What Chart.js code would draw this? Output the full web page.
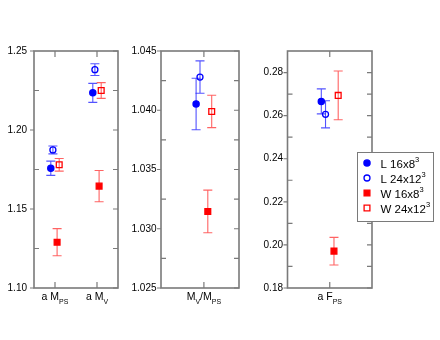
<!DOCTYPE html>
<html>
<head>
<meta charset="utf-8">
<script src="https://cdn.jsdelivr.net/npm/chart.js@4.4.0/dist/chart.umd.min.js"></script>
<style>
  body { margin: 0; background: #fff; }
  #wrap { position: relative; width: 440px; height: 340px; }
  canvas { position: absolute; top: 0; }
</style>
</head>
<body>
<div id="wrap">
  <canvas id="p1" width="125" height="340" style="left:0"></canvas>
  <canvas id="p2" width="125" height="340" style="left:120px"></canvas>
  <canvas id="p3" width="200" height="340" style="left:240px"></canvas>
</div>
<script>
// series (legend order)
const seriesNames = ["L 16x8^{3}", "L 24x12^{3}", "W 16x8^{3}", "W 24x12^{3}"]
const seriesShift = [-0.1, -0.05, 0.05, 0.1]

// panel 1: a M_PS, a M_V
const massLabels = ["a M_{PS}", "a M_{V}"]
const massL16 = [1.1758, 1.2235]
const massL16Err = [0.0045, 0.006]
const massL24 = [1.1874, 1.2382]
const massL24Err = [0.0025, 0.0037]
const massW16 = [1.129, 1.1645]
const massW16Err = [0.0086, 0.0099]
const massW24 = [1.178, 1.225]
const massW24Err = [0.004, 0.005]
const massTicks = [1.10, 1.15, 1.20, 1.25]

// panel 2: M_V / M_PS
const ratioLabels = ["M_{V}/M_{PS}"]
const ratioL16 = [1.04053]
const ratioL16Err = [0.00217]
const ratioL24 = [1.0428]
const ratioL24Err = [0.00137]
const ratioW16 = [1.03146]
const ratioW16Err = [0.0018]
const ratioW24 = [1.0399]
const ratioW24Err = [0.00137]
const ratioTicks = [1.025, 1.030, 1.035, 1.040, 1.045]

// panel 3: a F_PS
const decayLabels = ["a F_{PS}"]
const decayL16 = [0.2666]
const decayL16Err = [0.0058]
const decayL24 = [0.2606]
const decayL24Err = [0.0063]
const decayW16 = [0.1971]
const decayW16Err = [0.0064]
const decayW24 = [0.2694]
const decayW24Err = [0.0113]
const decayTicks = [0.18, 0.20, 0.22, 0.24, 0.26, 0.28]

const FONT = "'Liberation Sans', Arial, Helvetica, sans-serif"
const FRAME = "#7a7a7a"

const styles = [
  { pointStyle: "circle", radius: 3.1, fill: "#0000ff", line: "#0000ff", bar: "rgba(40,40,255,0.8)" },
  { pointStyle: "circle", radius: 3.0, fill: "rgba(0,0,0,0)", line: "#0000ff", bar: "rgba(40,40,255,0.8)" },
  { pointStyle: "rect", radius: 4.1, fill: "#ff0000", line: "#ff0000", bar: "rgba(255,60,60,0.8)" },
  { pointStyle: "rect", radius: 4.1, fill: "rgba(0,0,0,0)", line: "#ff0000", bar: "rgba(255,60,60,0.8)" }
]

// split "a M_{PS}" into [text, kind] parts
const parseRich = str => {
  const parts = []
  const re = /([_^])\{([^}]*)\}/g
  let last = 0, m
  while ((m = re.exec(str)) !== null) {
    if (m.index > last) parts.push([str.slice(last, m.index), ""])
    parts.push([m[2], m[1]])
    last = re.lastIndex
  }
  if (last < str.length) parts.push([str.slice(last), ""])
  return parts
}

const drawRich = (ctx, str, x, y, size, small, align) => {
  const parts = parseRich(str)
  const fontOf = kind => `${kind ? small : size}px ${FONT}`
  let w = 0
  parts.forEach(([t, k]) => { ctx.font = fontOf(k); w += ctx.measureText(t).width })
  let cx = align === "center" ? x - w / 2 : x
  ctx.textBaseline = "alphabetic"
  ctx.textAlign = "left"
  ctx.fillStyle = "#000"
  parts.forEach(([t, k]) => {
    ctx.font = fontOf(k)
    const dy = k === "_" ? size * 0.4 : k === "^" ? -size * 0.45 : 0
    ctx.fillText(t, cx, y + dy)
    cx += ctx.measureText(t).width
  })
}

const drawMarker = (ctx, st, x, y) => {
  ctx.save()
  ctx.fillStyle = st.fill
  ctx.strokeStyle = st.line
  ctx.lineWidth = 1.3
  ctx.beginPath()
  if (st.pointStyle === "circle") ctx.arc(x, y, st.radius, 0, Math.PI * 2)
  else {
    const h = st.radius * Math.SQRT1_2
    ctx.rect(x - h, y - h, 2 * h, 2 * h)
  }
  ctx.fill()
  ctx.stroke()
  ctx.restore()
}

const panelPlugin = {
  id: "panel",
  beforeDatasetsDraw(chart) {
    const { ctx, chartArea: a, scales: { x, y } } = chart
    const o = chart.options.plugins.panel
    ctx.save()
    // frame
    ctx.strokeStyle = FRAME
    ctx.lineWidth = 1.6
    ctx.strokeRect(a.left, a.top, a.right - a.left, a.bottom - a.top)
    // y ticks: majors at labels, minors halfway
    ctx.lineWidth = 1.2
    const minor = []
    for (let i = 0; i < o.yTicks.length - 1; i++) minor.push((o.yTicks[i] + o.yTicks[i + 1]) / 2)
    ctx.beginPath()
    o.yTicks.forEach(v => {
      const py = y.getPixelForValue(v)
      ctx.moveTo(a.left - 4, py); ctx.lineTo(a.left, py)
      ctx.moveTo(a.right - 5, py); ctx.lineTo(a.right, py)
    })
    minor.forEach(v => {
      const py = y.getPixelForValue(v)
      ctx.moveTo(a.left, py); ctx.lineTo(a.left + 5, py)
      ctx.moveTo(a.right - 5, py); ctx.lineTo(a.right, py)
    })
    // x ticks at categories
    o.labels.forEach((lab, j) => {
      const px = x.getPixelForValue(j + 1)
      ctx.moveTo(px, a.top); ctx.lineTo(px, a.top + 6)
      ctx.moveTo(px, a.bottom); ctx.lineTo(px, a.bottom - 6)
    })
    ctx.stroke()
    // error bars
    ctx.lineWidth = 1.1
    chart.data.datasets.forEach((ds, i) => {
      ctx.strokeStyle = styles[i].bar
      ctx.beginPath()
      ds.data.forEach((p, j) => {
        const px = x.getPixelForValue(p.x)
        const top = y.getPixelForValue(p.y + ds.errors[j])
        const bot = y.getPixelForValue(p.y - ds.errors[j])
        ctx.moveTo(px, top); ctx.lineTo(px, bot)
        ctx.moveTo(px - 4.5, top); ctx.lineTo(px + 4.5, top)
        ctx.moveTo(px - 4.5, bot); ctx.lineTo(px + 4.5, bot)
      })
      ctx.stroke()
    })
    ctx.restore()
  },
  afterDraw(chart) {
    const { ctx, chartArea: a, scales: { x } } = chart
    const o = chart.options.plugins.panel
    ctx.save()
    o.labels.forEach((lab, j) => {
      drawRich(ctx, lab, x.getPixelForValue(j + 1), a.bottom + 11.5, 10.5, 7, "center")
    })
    if (o.legend) {
      const L = o.legend
      ctx.fillStyle = "#fff"
      ctx.fillRect(L.x, L.y, L.w, L.h)
      ctx.strokeStyle = FRAME
      ctx.lineWidth = 1
      ctx.strokeRect(L.x + 0.5, L.y + 0.5, L.w, L.h)
      seriesNames.forEach((name, i) => {
        const ry = L.y + 11 + i * 15
        drawMarker(ctx, styles[i], L.x + 10, ry)
        drawRich(ctx, name, L.x + 23.5, ry + 4.5, 11.5, 7.5, "left")
      })
    }
    ctx.restore()
  }
}

const makePanel = (id, labels, vals, errs, xRange, yRange, yTicks, digits, yWidth, padRight, tickPad, extra) => {
  const datasets = vals.map((v, i) => ({
    data: v.map((val, j) => ({ x: j + 1 + seriesShift[i], y: val })),
    errors: errs[i],
    pointStyle: styles[i].pointStyle,
    pointRadius: styles[i].radius,
    pointBackgroundColor: styles[i].fill,
    pointBorderColor: styles[i].line,
    pointBorderWidth: 1.3,
    showLine: false
  }))
  return new Chart(document.getElementById(id), {
    type: "scatter",
    data: { datasets },
    plugins: [panelPlugin],
    options: {
      responsive: false,
      animation: false,
      events: [],
      layout: { padding: { top: 51, right: padRight, left: 0, bottom: 0 } },
      plugins: {
        legend: { display: false },
        tooltip: { enabled: false },
        panel: Object.assign({ labels, yTicks }, extra)
      },
      scales: {
        x: {
          type: "linear",
          min: xRange[0],
          max: xRange[1],
          grid: { display: false, drawTicks: false },
          border: { display: false },
          ticks: { display: false },
          afterFit: s => { s.height = 52 }
        },
        y: {
          min: yRange[0],
          max: yRange[1],
          grid: { display: false, drawTicks: false },
          border: { display: false },
          afterBuildTicks: s => { s.ticks = yTicks.map(v => ({ value: v })) },
          ticks: {
            padding: tickPad,
            color: "#000",
            font: { family: FONT, size: 10 },
            callback: v => v.toFixed(digits)
          },
          afterFit: s => { s.width = yWidth }
        }
      }
    }
  })
}

makePanel("p1", massLabels,
  [massL16, massL24, massW16, massW24],
  [massL16Err, massL24Err, massW16Err, massW24Err],
  [0.5, 2.5], [1.10, 1.25], massTicks, 2, 34, 7, 7, {})

makePanel("p2", ratioLabels,
  [ratioL16, ratioL24, ratioW16, ratioW24],
  [ratioL16Err, ratioL24Err, ratioW16Err, ratioW24Err],
  [0.45, 1.45], [1.025, 1.045], ratioTicks, 3, 41, 6, 4.5, {})

makePanel("p3", decayLabels,
  [decayL16, decayL24, decayW16, decayW24],
  [decayL16Err, decayL24Err, decayW16Err, decayW24Err],
  [0.5, 1.5], [0.18, 0.29], decayTicks, 2, 47.5, 68, 4.5,
  { legend: { x: 117, y: 152, w: 76, h: 69 } })
</script>
</body>
</html>
